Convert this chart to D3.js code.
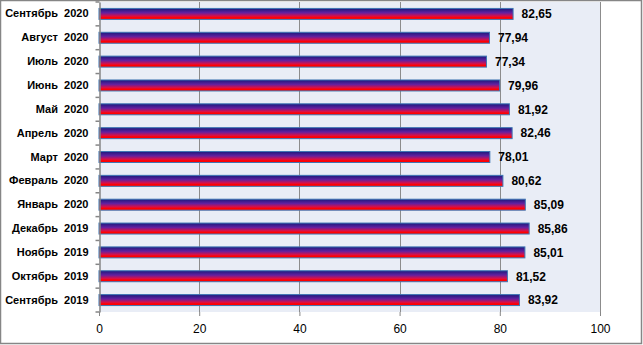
<!DOCTYPE html>
<html>
<head>
<meta charset="utf-8">
<script src="https://cdn.jsdelivr.net/npm/d3@7/dist/d3.min.js"></script>
<style>
  html, body { margin: 0; padding: 0; background: #fff; }
  svg { display: block; }
  text { font-family: "Liberation Sans", Arial, sans-serif; }
</style>
</head>
<body>
<svg id="chart" width="643" height="345"></svg>
<script>
// Monthly values, top row first
const months = [
  "Сентябрь  2020", "Август  2020", "Июль  2020", "Июнь  2020", "Май  2020",
  "Апрель  2020", "Март  2020", "Февраль  2020", "Январь  2020",
  "Декабрь  2019", "Ноябрь  2019", "Октябрь  2019", "Сентябрь  2019"
];
const values = [82.65, 77.94, 77.34, 79.96, 81.92, 82.46, 78.01, 80.62, 85.09, 85.86, 85.01, 81.52, 83.92];
const xTicks = [0, 20, 40, 60, 80, 100];

const svg = d3.select("#chart");
const W = 643, H = 345;
const plot = { left: 99, right: 600, top: 2, bottom: 312 };

// Outer chart border
svg.append("rect")
  .attr("x", 0.5).attr("y", 0.5)
  .attr("width", W - 2).attr("height", H - 2)
  .attr("fill", "#fff").attr("stroke", "#868686").attr("stroke-width", 1.5);

const x = d3.scaleLinear().domain([0, 100]).range([plot.left, plot.right]);
const y = d3.scaleBand().domain(months).range([plot.top, plot.bottom]).paddingInner(0.54).paddingOuter(0.27);

// Vertical gradient for the bars: navy top, purple middle, red bottom
const defs = svg.append("defs");
const grad = defs.append("linearGradient").attr("id", "barGrad")
  .attr("x1", 0).attr("y1", 0).attr("x2", 0).attr("y2", 1);
grad.append("stop").attr("offset", "0%").attr("stop-color", "#1a1a7c");
grad.append("stop").attr("offset", "40%").attr("stop-color", "#6420a0");
grad.append("stop").attr("offset", "70%").attr("stop-color", "#d81048");
grad.append("stop").attr("offset", "85%").attr("stop-color", "#ff0000");
grad.append("stop").attr("offset", "100%").attr("stop-color", "#ff0000");

// Plot area background
svg.append("rect")
  .attr("x", plot.left).attr("y", plot.top)
  .attr("width", plot.right - plot.left).attr("height", plot.bottom - plot.top)
  .attr("fill", "#e9edf6");

// Vertical gridlines
svg.append("g")
  .selectAll("line").data(xTicks.filter(d => d > 0)).join("line")
  .attr("x1", d => Math.round(x(d)) + 0.5).attr("x2", d => Math.round(x(d)) + 0.5)
  .attr("y1", plot.top).attr("y2", plot.bottom)
  .attr("stroke", "#8c8c8c").attr("stroke-width", 1);

// Bars
svg.append("g")
  .selectAll("rect").data(values).join("rect")
  .attr("x", x(0))
  .attr("y", (d, i) => y(months[i]))
  .attr("width", d => x(d) - x(0))
  .attr("height", y.bandwidth())
  .attr("fill", "url(#barGrad)")
  .attr("stroke", "#3f76b4").attr("stroke-width", 1);

// Value labels
svg.append("g")
  .selectAll("text").data(values).join("text")
  .attr("x", d => x(d) + 8.5)
  .attr("y", (d, i) => y(months[i]) + y.bandwidth() / 2)
  .attr("dy", "0.36em")
  .attr("font-size", 12).attr("font-weight", "bold").attr("fill", "#000")
  .text(d => d.toFixed(2).replace(".", ","));

// Category axis
const yAxis = svg.append("g")
  .attr("transform", `translate(${plot.left + 0.5},0)`)
  .call(d3.axisLeft(y).tickSize(0).tickPadding(11));
yAxis.select(".domain").attr("stroke", "#868686").attr("stroke-width", 1.5);
yAxis.selectAll("text")
  .attr("font-size", 11).attr("font-weight", "bold").attr("fill", "#000")
  .style("white-space", "pre");
// Tick marks on band boundaries
const bounds = d3.range(months.length + 1).map(i => plot.top + i * (plot.bottom - plot.top) / months.length);
yAxis.selectAll("line.bound").data(bounds).join("line")
  .attr("class", "bound")
  .attr("x1", -4).attr("x2", 0)
  .attr("y1", d => d).attr("y2", d => d)
  .attr("stroke", "#868686").attr("stroke-width", 1.5);

// Value axis
const xAxis = svg.append("g")
  .attr("transform", `translate(0,${plot.bottom})`)
  .call(d3.axisBottom(x).tickValues(xTicks).tickSize(4).tickPadding(8));
xAxis.select(".domain").remove();
xAxis.selectAll("line").attr("stroke", "#868686");
xAxis.selectAll("text").attr("font-size", 12).attr("fill", "#000");
</script>
</body>
</html>
